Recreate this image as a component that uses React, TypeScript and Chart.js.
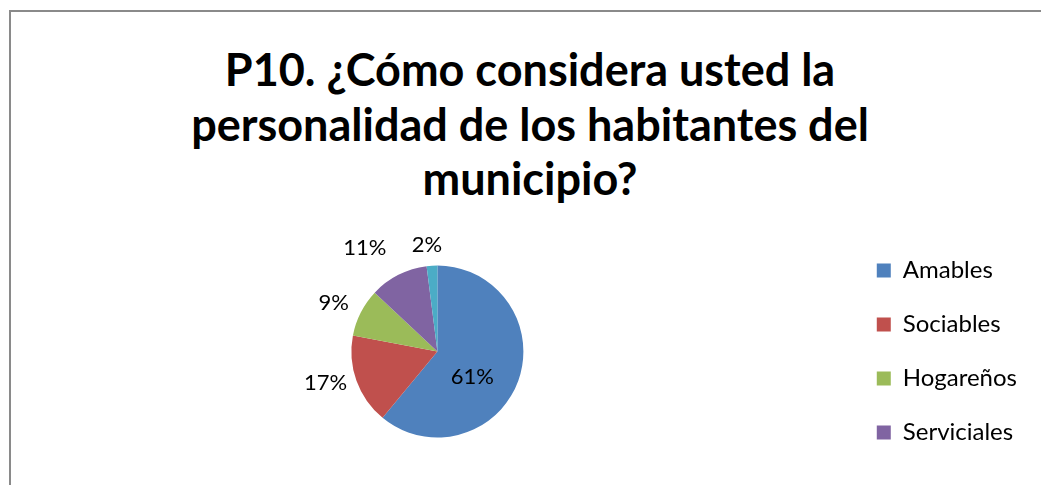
import React, { useEffect, useRef } from "react";
import { Chart, registerables } from "chart.js";

Chart.register(...registerables);

const titleLines = [
  "P10. ¿Cómo considera usted la",
  "personalidad de los habitantes del",
  "municipio?",
];
const categories = ["Amables", "Sociables", "Hogareños", "Serviciales", "Otros"];
const percentages = [61, 17, 9, 11, 2];
const sliceColors = ["#4F81BD", "#C0504D", "#9BBB59", "#8064A2", "#4BACC6"];
const legendShown = 4;

// label placement relative to each slice's mid angle (degrees shift, radius ratio)
const labelPlacement = [
  { angleShift: 16, radiusRatio: 0.5 },
  { angleShift: 4, radiusRatio: 1.35 },
  { angleShift: -2, radiusRatio: 1.33 },
  { angleShift: -8, radiusRatio: 1.47 },
  { angleShift: -2, radiusRatio: 1.25 },
];

const pctLabels = {
  id: "pctLabels",
  afterDatasetsDraw(chart: any) {
    const meta = chart.getDatasetMeta(0);
    const values = chart.data.datasets[0].data as number[];
    const ctx = chart.ctx as CanvasRenderingContext2D;
    ctx.save();
    ctx.font = "22px Lato";
    ctx.fillStyle = "#000";
    ctx.textAlign = "center";
    ctx.textBaseline = "middle";
    meta.data.forEach((arc: any, i: number) => {
      const { x, y, startAngle, endAngle, outerRadius } = arc.getProps(
        ["x", "y", "startAngle", "endAngle", "outerRadius"],
        true
      );
      const p = labelPlacement[i];
      const a = (startAngle + endAngle) / 2 + (p.angleShift * Math.PI) / 180;
      const r = outerRadius * p.radiusRatio;
      ctx.fillText(`${values[i]}%`, x + r * Math.cos(a), y + r * Math.sin(a));
    });
    ctx.restore();
  },
};

export default function App() {
  const canvasRef = useRef<HTMLCanvasElement | null>(null);

  useEffect(() => {
    document.body.style.margin = "0";
    const canvas = canvasRef.current;
    if (!canvas) return;
    const chart = new Chart(canvas, {
      type: "pie",
      data: {
        labels: categories,
        datasets: [
          {
            data: percentages,
            backgroundColor: sliceColors,
            borderWidth: 0,
            radius: 86,
          } as any,
        ],
      },
      options: {
        responsive: false,
        animation: false,
        devicePixelRatio: 1,
        layout: { padding: { top: 218, left: 28, right: 14, bottom: 0 } },
        plugins: {
          title: { display: false },
          tooltip: { enabled: false },
          legend: {
            display: true,
            position: "right",
            align: "center",
            labels: {
              boxWidth: 14,
              boxHeight: 14,
              padding: 30,
              color: "#000",
              font: { family: "Lato", size: 24 },
              filter: (item: any) => item.index < legendShown,
            },
          },
        },
      },
      plugins: [pctLabels],
    });
    return () => chart.destroy();
  }, []);

  return (
    <div
      style={{
        position: "fixed",
        left: 0,
        top: 0,
        width: 1041,
        height: 485,
        overflow: "hidden",
        background: "#fff",
      }}
    >
      <div
        style={{
          position: "absolute",
          left: 9,
          top: 10,
          width: 1200,
          height: 700,
          border: "2px solid #8a8a8a",
          boxSizing: "border-box",
        }}
      />
      <div
        style={{
          position: "absolute",
          left: 0,
          top: 42,
          width: 1060,
          textAlign: "center",
          fontFamily: "Lato",
          fontWeight: 700,
          fontSize: 45,
          lineHeight: "54.5px",
          color: "#000",
          whiteSpace: "nowrap",
        }}
      >
        {titleLines.map((t, i) => (
          <div key={i}>{t}</div>
        ))}
      </div>
      <canvas
        ref={canvasRef}
        width={1041}
        height={485}
        style={{ position: "absolute", left: 0, top: 0, width: 1041, height: 485 }}
      />
    </div>
  );
}
